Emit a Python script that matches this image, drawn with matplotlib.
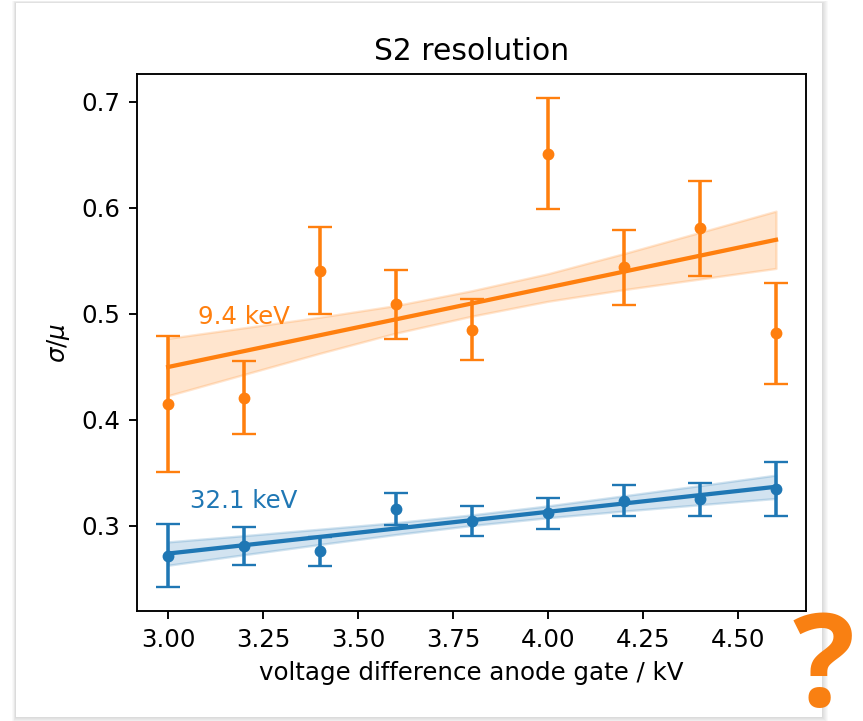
import matplotlib
matplotlib.use("Agg")
import matplotlib.pyplot as plt
from matplotlib.patches import Rectangle
import numpy as np

# voltage difference anode gate (kV)
voltage = [3.0, 3.2, 3.4, 3.6, 3.8, 4.0, 4.2, 4.4, 4.6]

# 9.4 keV line: resolution and errors
res_94 = [0.415, 0.421, 0.541, 0.509, 0.485, 0.651, 0.544, 0.581, 0.482]
err_94 = [0.064, 0.0345, 0.041, 0.0325, 0.0288, 0.0524, 0.0355, 0.0448, 0.0476]
fit_94 = [0.450, 0.570]
band_lo_94 = [0.423, 0.443, 0.463, 0.482, 0.498, 0.512, 0.523, 0.533, 0.543]
band_hi_94 = [0.477, 0.487, 0.497, 0.508, 0.522, 0.538, 0.557, 0.577, 0.597]

# 32.1 keV line
res_321 = [0.272, 0.281, 0.276, 0.316, 0.305, 0.312, 0.324, 0.325, 0.335]
err_321 = [0.0295, 0.0177, 0.0138, 0.015, 0.014, 0.0145, 0.015, 0.0155, 0.0255]
fit_321 = [0.274, 0.337]
band_lo_321 = [0.263, 0.2729, 0.2826, 0.2920, 0.3005, 0.3078, 0.3141, 0.3201, 0.326]
band_hi_321 = [0.285, 0.2909, 0.2970, 0.3032, 0.3105, 0.3190, 0.3285, 0.3381, 0.348]

fit_x = [3.0, 4.6]

W, H, DPI = 863, 721, 170
plt.rcParams["font.size"] = 10.4
fig = plt.figure(figsize=(W / DPI, H / DPI), dpi=DPI)
fig.patch.set_facecolor("white")

# card with soft shadow
cx0, cx1 = 16 / W, 822 / W
cy0, cy1 = (H - 717) / H, (H - 3) / H
for i in range(6, 0, -1):
    dx, dy = i / W, i / H
    fig.patches.append(Rectangle((cx0 - dx * 0.6, cy0 - dy), cx1 - cx0 + dx * 1.6, cy1 - cy0 + dy * 1.4,
                                 transform=fig.transFigure, facecolor="black", alpha=0.025,
                                 edgecolor="none", zorder=-10))
fig.patches.append(Rectangle((cx0, cy0), cx1 - cx0, cy1 - cy0, transform=fig.transFigure,
                             facecolor="white", edgecolor="none", zorder=-9))

ax = fig.add_axes([137 / W, (H - 611) / H, 669 / W, 537 / H])
ax.set_facecolor("none")

blue, orange = "tab:blue", "tab:orange"

ax.errorbar(voltage, res_321, yerr=err_321, fmt="o", ms=4, capsize=5, color=blue)
ax.plot(fit_x, fit_321, color=blue, lw=1.8)
ax.fill_between(voltage, band_lo_321, band_hi_321, color=blue, alpha=0.2)

ax.errorbar(voltage, res_94, yerr=err_94, fmt="o", ms=4, capsize=5, color=orange)
ax.plot(fit_x, fit_94, color=orange, lw=1.8)
ax.fill_between(voltage, band_lo_94, band_hi_94, color=orange, alpha=0.2)

ax.text(3.079, 0.4906, "9.4 keV", color=orange)
ax.text(3.058, 0.317, "32.1 keV", color=blue)

ax.set_xlim(2.918, 4.679)
ax.set_ylim(0.2198, 0.7264)
ax.set_xticks([3.0, 3.25, 3.5, 3.75, 4.0, 4.25, 4.5])
ax.set_xticklabels(["3.00", "3.25", "3.50", "3.75", "4.00", "4.25", "4.50"])
ax.set_yticks([0.3, 0.4, 0.5, 0.6, 0.7])
ax.set_title("S2 resolution", fontsize=12.6)
ax.set_xlabel("voltage difference anode gate / kV")
ax.set_ylabel(r"$\sigma/\mu$")

fig.text(824 / W, 1 - 672 / H, "?", ha="center", va="center", fontsize=55,
         fontweight="bold", family=["Open Sans", "DejaVu Sans"], color="#f98012")

fig.savefig("out.png", dpi=DPI)
